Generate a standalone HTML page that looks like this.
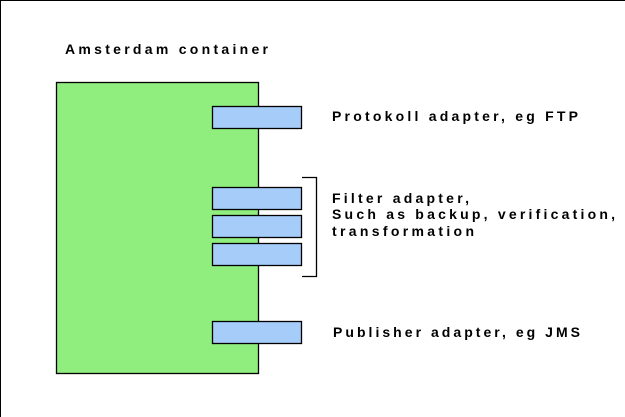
<!DOCTYPE html>
<html><head><meta charset="utf-8"><style>
html,body{margin:0;padding:0;background:#fff;}
svg{display:block;}
text{font-family:"Liberation Sans",Arial,sans-serif;font-weight:bold;font-size:14px;fill:#000;}
</style></head><body>
<svg width="625" height="417" viewBox="0 0 625 417" xmlns="http://www.w3.org/2000/svg">
<rect x="0" y="0" width="625" height="417" fill="#fff"/>
<line x1="0.5" y1="0" x2="0.5" y2="417" stroke="#000" stroke-width="1"/>
<line x1="0" y1="0.5" x2="625" y2="0.5" stroke="#000" stroke-width="1"/>
<text x="65" y="54" textLength="203" lengthAdjust="spacing">Amsterdam container</text>
<rect x="56.5" y="82.5" width="202" height="291" fill="#90ee7e" stroke="#000" stroke-width="1.3"/>
<g fill="#a6ccf9" stroke="#000" stroke-width="1.3">
<rect x="212.5" y="106.5" width="89" height="22"/>
<rect x="212.5" y="187.5" width="89" height="22"/>
<rect x="212.5" y="215.5" width="89" height="22"/>
<rect x="212.5" y="243.5" width="89" height="22"/>
<rect x="212.5" y="321.5" width="89" height="22"/>
</g>
<polyline points="302,177.5 316.5,177.5 316.5,276.5 302,276.5" fill="none" stroke="#000" stroke-width="1.3"/>
<text x="332" y="121" textLength="246" lengthAdjust="spacing">Protokoll adapter, eg FTP</text>
<text x="332" y="203" textLength="137" lengthAdjust="spacing">Filter adapter,</text>
<text x="332" y="219" textLength="283" lengthAdjust="spacing">Such as backup, verification,</text>
<text x="332" y="236" textLength="142" lengthAdjust="spacing">transformation</text>
<text x="333" y="337" textLength="247" lengthAdjust="spacing">Publisher adapter, eg JMS</text>
</svg>
</body></html>
